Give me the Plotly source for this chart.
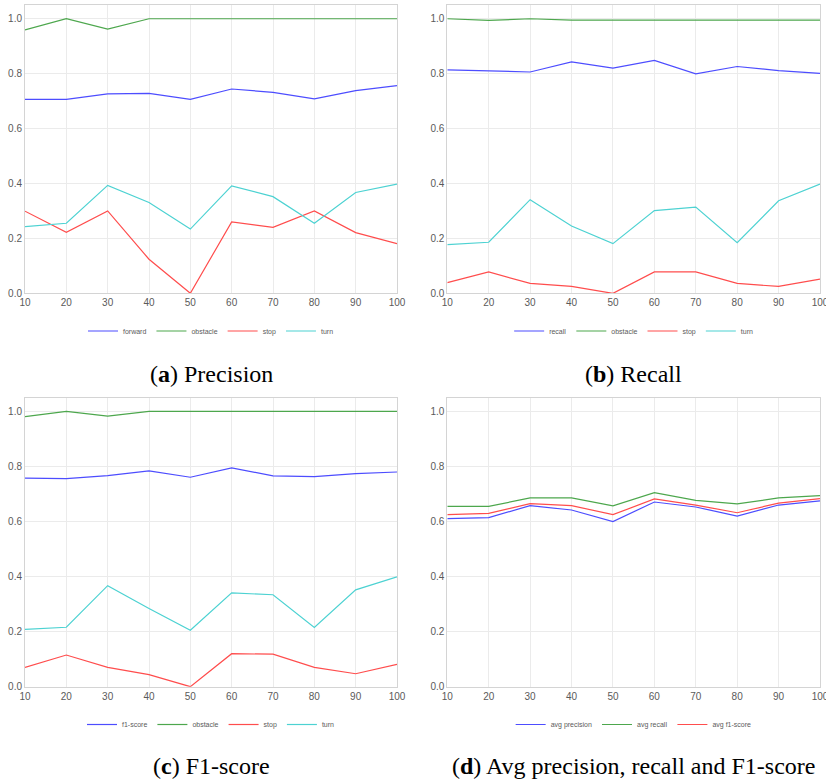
import plotly.graph_objects as go

# Training-set size (%) on the x axis
sizes = [10, 20, 30, 40, 50, 60, 70, 80, 90, 100]

# (a) Precision per class
prec_forward = [0.706, 0.706, 0.726, 0.728, 0.706, 0.744, 0.732, 0.708, 0.738, 0.756]
prec_obstacle = [0.959, 1.0, 0.962, 1.0, 1.0, 1.0, 1.0, 1.0, 1.0, 1.0]
prec_stop = [0.299, 0.222, 0.300, 0.124, 0.0, 0.260, 0.240, 0.300, 0.221, 0.181]
prec_turn = [0.243, 0.255, 0.393, 0.331, 0.234, 0.391, 0.352, 0.255, 0.367, 0.398]

# (b) Recall per class
rec_forward = [0.814, 0.809, 0.806, 0.843, 0.820, 0.848, 0.799, 0.826, 0.811, 0.801]
rec_obstacle = [1.0, 0.994, 1.0, 0.995, 0.995, 0.995, 0.995, 0.995, 0.995, 0.995]
rec_stop = [0.039, 0.078, 0.036, 0.025, 0.0, 0.078, 0.078, 0.036, 0.025, 0.052]
rec_turn = [0.177, 0.186, 0.341, 0.245, 0.181, 0.301, 0.314, 0.184, 0.337, 0.398]

# (c) F1-score per class
f1_forward = [0.758, 0.756, 0.767, 0.784, 0.761, 0.795, 0.766, 0.763, 0.774, 0.780]
f1_obstacle = [0.981, 1.0, 0.983, 1.0, 1.0, 1.0, 1.0, 1.0, 1.0, 1.0]
f1_stop = [0.070, 0.115, 0.070, 0.044, 0.0, 0.120, 0.118, 0.070, 0.047, 0.081]
f1_turn = [0.208, 0.216, 0.367, 0.284, 0.205, 0.341, 0.334, 0.215, 0.352, 0.399]

# (d) Averages
avg_precision = [0.611, 0.614, 0.658, 0.642, 0.600, 0.671, 0.653, 0.620, 0.660, 0.675]
avg_recall = [0.655, 0.655, 0.686, 0.686, 0.657, 0.705, 0.677, 0.664, 0.686, 0.694]
avg_f1 = [0.625, 0.630, 0.665, 0.658, 0.625, 0.682, 0.660, 0.632, 0.667, 0.683]

panel_series = [
    [("forward", prec_forward), ("obstacle", prec_obstacle), ("stop", prec_stop), ("turn", prec_turn)],
    [("recall", rec_forward), ("obstacle", rec_obstacle), ("stop", rec_stop), ("turn", rec_turn)],
    [("f1-score", f1_forward), ("obstacle", f1_obstacle), ("stop", f1_stop), ("turn", f1_turn)],
    [("avg precision", avg_precision), ("avg recall", avg_recall), ("avg f1-score", avg_f1)],
]
captions = ["(<b>a</b>) Precision", "(<b>b</b>) Recall", "(<b>c</b>) F1-score",
            "(<b>d</b>) Avg precision, recall and F1-score"]

colors = ["#4d4dff", "#4da74d", "#ff4d4d", "#4dd2d2"]

W, H = 826, 781
# plot-area boxes in pixels: (left, right, top, bottom)
boxes = [(25, 397, 5, 293.3), (447.3, 820, 5, 293.3),
         (25, 397, 397.7, 686.7), (447.3, 820, 397.7, 686.7)]
legend_y_px = [331, 331, 724.5, 724.5]
caption_y_px = [374, 374, 766, 766]

fig = go.Figure()
fig.set_subplots(rows=2, cols=2)

layout = dict(
    width=W, height=H,
    margin=dict(l=0, r=0, t=0, b=0, autoexpand=False),
    paper_bgcolor="white", plot_bgcolor="white",
    font=dict(family="Liberation Sans", color="#555555", size=10),
    annotations=[],
)

for i, series in enumerate(panel_series):
    row, col = i // 2 + 1, i % 2 + 1
    legend_name = "legend" if i == 0 else f"legend{i + 1}"
    for j, (name, vals) in enumerate(series):
        fig.add_trace(
            go.Scatter(x=sizes, y=vals, mode="lines", name=name,
                       line=dict(color=colors[j], width=1.2),
                       legend=legend_name, hoverinfo="skip"),
            row=row, col=col)

    left, right, top, bottom = boxes[i]
    ax_suffix = "" if i == 0 else str(i + 1)
    common = dict(
        ticks="", showgrid=True, gridcolor="#ebebeb", gridwidth=1,
        showline=True, linecolor="#d4d4d4", linewidth=1, mirror=True,
        zeroline=False, automargin=False, ticklabeloverflow="allow",
        tickfont=dict(size=10, color="#5a5a5a"),
    )
    layout[f"xaxis{ax_suffix}"] = dict(
        domain=[left / W, right / W], range=[10, 100],
        tickmode="array", tickvals=sizes, **common)
    layout[f"yaxis{ax_suffix}"] = dict(
        domain=[1 - bottom / H, 1 - top / H], range=[0, 1.05],
        tickmode="array", tickvals=[0, 0.2, 0.4, 0.6, 0.8, 1.0],
        tickformat=".1f", **common)
    layout[legend_name] = dict(
        orientation="h", x=(left + right) / 2 / W, xanchor="center",
        y=1 - legend_y_px[i] / H, yanchor="middle",
        bgcolor="rgba(0,0,0,0)", font=dict(size=7, color="#5a5a5a"),
        itemwidth=30,
    )
    layout["annotations"].append(dict(
        text=captions[i], xref="paper", yref="paper",
        x=(left + right) / 2 / W, y=1 - caption_y_px[i] / H,
        xanchor="center", yanchor="middle", showarrow=False,
        font=dict(family="Liberation Serif", size=24, color="black"),
    ))

fig.update_layout(**layout)
fig.write_html("out.html")
